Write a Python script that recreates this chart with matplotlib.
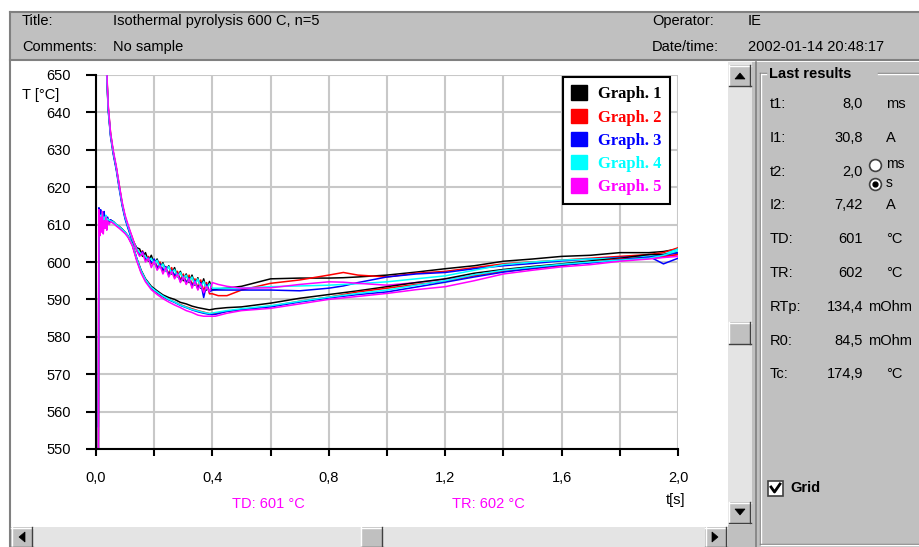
import matplotlib
matplotlib.use("Agg")
import matplotlib.pyplot as plt
from matplotlib.patches import Rectangle, Patch, Polygon
from matplotlib.lines import Line2D

plt.rcParams['font.family'] = ['Liberation Sans', 'DejaVu Sans']

# ---- data ----
graph_names = ["Graph. 1", "Graph. 2", "Graph. 3", "Graph. 4", "Graph. 5"]
graph_colors = ["#000000", "#ff0000", "#0000ff", "#00ffff", "#ff00ff"]

# TD curve (starts far above the window, decays and settles)
t_td = [0.030, 0.037, 0.042, 0.050, 0.060, 0.070, 0.080, 0.090, 0.100, 0.110,
        0.125, 0.140, 0.150, 0.160, 0.170, 0.180, 0.190, 0.200, 0.210, 0.220,
        0.230, 0.240, 0.250, 0.260, 0.270, 0.280, 0.290, 0.300, 0.310, 0.320,
        0.330, 0.340, 0.350, 0.360, 0.370, 0.380, 0.390, 0.400,
        0.420, 0.450, 0.500, 0.600, 0.700, 0.800, 0.850, 0.900, 1.000, 1.100,
        1.200, 1.300, 1.400, 1.500, 1.600, 1.700, 1.800, 1.900, 1.950, 2.000]
td_g1 = [668, 650, 641, 634, 629, 625, 620, 615.5, 612, 609.5,
         606, 603.8, 603.5, 601.5, 602.5, 600.2, 601.8, 599.5, 600.8, 598.5,
         599.8, 597.5, 599, 596.8, 598.5, 596, 597.5, 595, 596.8, 594.5,
         596.5, 593.8, 595.8, 593, 595.5, 592.5, 594.8, 592.5,
         592.8, 593, 593.5, 595.5, 595.7, 595.7, 595.8, 596, 596.5, 597.3,
         598.2, 599, 600.2, 600.8, 601.5, 601.8, 602.5, 602.5, 602.8, 603.5]
td_g2 = [668, 650.5, 641.5, 634.5, 629, 625, 620.5, 615.5, 612, 609.5,
         606.5, 603, 602, 603, 600.5, 601.5, 599.5, 600.5, 598.5, 600,
         597.5, 598.5, 596.8, 598.5, 596, 597.5, 595.2, 596.8, 594.2, 596.5,
         593.8, 595.5, 593, 595.2, 592.2, 594.5, 591.5, 591.5,
         591, 591, 592.5, 594.3, 595.2, 596.5, 597.2, 596.5, 596, 597,
         597.5, 598.5, 599.5, 600, 600.5, 601, 601.5, 602, 602.5, 603.8]
td_g3 = [667, 649.5, 640.5, 633.5, 628.5, 624.5, 619.5, 615, 611.5, 609,
         605.5, 603.5, 601.8, 602.8, 600.8, 601.2, 599.8, 600.8, 598.2, 599.5,
         597.8, 598.8, 596.5, 597.8, 596.5, 597, 594.8, 596.2, 594.5, 595.8,
         593.5, 595, 592.8, 594.5, 590.5, 594, 592, 592.5,
         592.5, 592.5, 592.5, 592.5, 592.3, 593, 593.6, 594.5, 596, 596.8,
         597.2, 598.2, 599, 599.6, 600.3, 600.8, 601.2, 601.5, 599.5, 601]
td_g4 = [668, 650, 641, 634, 629, 625, 620, 615.5, 612, 609.5,
         606, 603.5, 602.5, 602, 601.5, 600.5, 601, 599.5, 600.5, 598.5,
         599.5, 597.5, 598.8, 597, 598, 596, 597.2, 595.5, 596.5, 594.8,
         596, 594, 595.5, 593.2, 594.8, 592.8, 594.2, 593,
         593, 593, 593, 593.4, 593.6, 593.8, 594, 594.2, 594.7, 595.5,
         596.3, 597.8, 599.3, 600, 600.5, 600.8, 601, 601.5, 602, 603.5]
td_g5 = [669, 651, 642, 634.5, 629.5, 625.5, 620.5, 616, 612.5, 610,
         606.5, 603, 601.5, 602.5, 600, 601, 598.5, 600.2, 597.8, 599,
         596.8, 598.5, 596, 597.5, 595.5, 596.8, 594.5, 596, 594, 595.5,
         593, 594.8, 592.5, 594.2, 591.8, 593.5, 592, 594.5,
         594, 593.5, 593, 593.1, 594, 594.7, 594.6, 594.3, 593.8, 594.5,
         595.4, 596.5, 597.5, 598.5, 599.3, 599.8, 600.5, 601, 601.3, 602]

# TR curve (jumps up at start, dips lower, then rises)
t_tr = [0.008, 0.010, 0.013, 0.016, 0.019, 0.022, 0.025, 0.028, 0.031, 0.034,
        0.037, 0.040, 0.045, 0.050, 0.060, 0.070, 0.080, 0.090, 0.100, 0.110,
        0.125, 0.140, 0.155, 0.170, 0.190, 0.210, 0.230, 0.250, 0.270, 0.290,
        0.310, 0.330, 0.350, 0.370, 0.390, 0.410,
        0.450, 0.500, 0.600, 0.700, 0.800, 0.900, 1.000, 1.100, 1.200, 1.300,
        1.400, 1.500, 1.600, 1.700, 1.800, 1.900, 1.950, 2.000]
tr_g1 = [540, 611, 613, 610, 612.5, 610.5, 612, 611, 612, 610.5,
         611.5, 611.5, 611, 611.2, 610.8, 610, 609.5, 608.8, 608, 607,
         604.8, 601, 597.8, 595.5, 593.5, 592.3, 591.2, 590.5, 590, 589.2,
         588.8, 588.2, 587.8, 587.5, 587.2, 587.5,
         587.8, 588, 589, 590.3, 591.3, 592.3, 593.4, 594.5, 595.5, 597,
         598, 598.8, 599.5, 600.3, 601, 602, 602, 602.5]
tr_g2 = [540, 612, 609, 613, 610, 612, 608.5, 612, 610, 611.5,
         609.5, 611, 610.5, 611, 610.5, 609.8, 609.2, 608.5, 607.8, 606.8,
         604.5, 600.6, 597.3, 595, 593, 591.8, 590.7, 590, 589.3, 588.6,
         588, 587.5, 587, 586.6, 586.2, 586.3,
         586.8, 587.3, 588.2, 589.5, 590.6, 592, 593, 594, 594.8, 596.3,
         597.5, 598.2, 599, 600, 600.8, 601.2, 601.5, 602]
tr_g3 = [556, 614.5, 611, 614, 609.5, 613, 611, 613.5, 610, 612,
         611, 612, 610.8, 611.3, 610.6, 609.9, 609.3, 608.6, 607.9, 606.9,
         604.6, 600.8, 597.5, 595.2, 593.1, 591.9, 590.8, 589.9, 589.2, 588.4,
         587.8, 587.2, 586.7, 586.3, 586, 586,
         586.8, 587.3, 588, 589.3, 590.4, 591.3, 592, 593.3, 594.6, 596,
         597.3, 598.3, 599.2, 599.8, 600.6, 601.3, 601.8, 602.5]
tr_g4 = [540, 613, 610.5, 612.5, 611, 613, 610, 612, 611.5, 612.5,
         610.8, 611.5, 611.2, 611, 610.7, 610, 609.4, 608.7, 608, 607,
         604.7, 600.9, 597.6, 595.3, 593.2, 592, 590.9, 590, 589.3, 588.5,
         587.9, 587.3, 586.9, 586.5, 586.2, 586.5,
         587, 587.5, 588.3, 589.5, 590.6, 591.6, 592.5, 593.8, 595, 596.6,
         597.8, 598.6, 599.4, 600, 600.5, 601, 601.8, 603]
tr_g5 = [540, 614, 607, 612, 608, 613.5, 607.5, 611, 609, 612,
         608.5, 611, 610, 610.8, 610.3, 609.6, 609, 608.3, 607.6, 606.6,
         604.3, 600.3, 597, 594.7, 592.6, 591.3, 590.2, 589.3, 588.5, 587.8,
         587, 586.5, 585.8, 585.5, 585.5, 585.5,
         586.3, 587, 587.6, 588.8, 590, 590.8, 591.6, 592.6, 593.4, 595,
         596.8, 597.8, 598.7, 599.3, 600.2, 600.8, 601.2, 601.5]

td_series = [td_g1, td_g2, td_g3, td_g4, td_g5]
tr_series = [tr_g1, tr_g2, tr_g3, tr_g4, tr_g5]

x_ticks = [0.0, 0.2, 0.4, 0.6, 0.8, 1.0, 1.2, 1.4, 1.6, 1.8, 2.0]
x_tick_labels = ["0,0", "", "0,4", "", "0,8", "", "1,2", "", "1,6", "", "2,0"]
y_ticks = [550, 560, 570, 580, 590, 600, 610, 620, 630, 640, 650]

header_left = [("Title:", "Isothermal pyrolysis 600 C, n=5"),
               ("Comments:", "No sample")]
header_right = [("Operator:", "IE"), ("Date/time:", "2002-01-14 20:48:17")]

result_labels = ["t1:", "I1:", "t2:", "I2:", "TD:", "TR:", "RTp:", "R0:", "Tc:"]
result_values = ["8,0", "30,8", "2,0", "7,42", "601", "602", "134,4", "84,5", "174,9"]
result_units = ["ms", "A", "", "A", "°C", "°C", "mOhm", "mOhm", "°C"]

td_text = "TD: 601 °C"
tr_text = "TR: 602 °C"

# ---- figure in pixel units ----
W, H = 920, 547
fig = plt.figure(figsize=(W / 100, H / 100), dpi=100)
fig.patch.set_facecolor("white")


def fx(x):
    return x / W


def fy(y):
    return 1 - y / H


def rect(x0, y0, x1, y1, fc, ec="none", lw=0, z=0):
    fig.add_artist(Rectangle((fx(x0), fy(y1)), (x1 - x0) / W, (y1 - y0) / H,
                             transform=fig.transFigure, facecolor=fc,
                             edgecolor=ec, linewidth=lw, zorder=z))


def hline(x0, x1, y, c, lw=1.0, z=1):
    fig.add_artist(Line2D([fx(x0), fx(x1)], [fy(y), fy(y)],
                          transform=fig.transFigure, color=c, lw=lw, zorder=z))


def vline(x, y0, y1, c, lw=1.0, z=1):
    fig.add_artist(Line2D([fx(x), fx(x)], [fy(y0), fy(y1)],
                          transform=fig.transFigure, color=c, lw=lw, zorder=z))


def button(x0, y0, x1, y1):
    rect(x0, y0, x1, y1, "#c0c0c0", z=2)
    hline(x0, x1, y0 + 0.5, "white", 1, z=3)
    vline(x0 + 0.5, y0, y1, "white", 1, z=3)
    hline(x0, x1, y1 - 0.5, "#404040", 1, z=3)
    vline(x1 - 0.5, y0, y1, "#404040", 1, z=3)


def arrow(pts):
    fig.add_artist(Polygon([(fx(a), fy(b)) for a, b in pts], closed=True,
                           transform=fig.transFigure, facecolor="black",
                           edgecolor="black", lw=0.5, zorder=4))


# header band
rect(10, 12, 920, 60, "#c0c0c0")
hline(10, 920, 12, "#808080", 1.5)
hline(10, 920, 60, "#808080", 1.5)
vline(10, 12, 547, "#808080", 1.5)
for i, (lab, val) in enumerate(header_left):
    y = 21 + i * 26
    fig.text(fx(22), fy(y), lab, fontsize=10.5, va="center", ha="left")
    fig.text(fx(113), fy(y), val, fontsize=10.5, va="center", ha="left")
for i, (lab, val) in enumerate(header_right):
    y = 21 + i * 26
    fig.text(fx(652), fy(y), lab, fontsize=10.5, va="center", ha="left")
    fig.text(fx(748), fy(y), val, fontsize=10.5, va="center", ha="left")

# scrollbars
rect(728, 62, 752, 525, "#e4e4e4")
button(729, 65, 751, 86)
button(729, 322, 751, 344)
button(729, 502, 751, 523)
arrow([(735, 79), (745, 79), (740, 73)])
arrow([(735, 509), (745, 509), (740, 515)])
rect(728, 525, 752, 547, "#c0c0c0")
rect(10, 527, 728, 547, "#e4e4e4")
button(11, 527, 33, 547)
button(361, 527, 383, 547)
button(705, 527, 727, 547)
arrow([(25, 532), (25, 542), (19, 537)])
arrow([(712, 532), (712, 542), (718, 537)])

# right panel
rect(752, 62, 920, 547, "#c0c0c0")
vline(756, 62, 547, "#808080", 1.2)
hline(760, 766, 73, "#808080", 1)
hline(878, 920, 73, "#808080", 1)
hline(760, 766, 74, "white", 1)
hline(878, 920, 74, "white", 1)
vline(760, 73, 544, "#808080", 1)
vline(761, 74, 544, "white", 1)
hline(760, 920, 544, "#808080", 1)
hline(761, 920, 545, "white", 1)
fig.text(fx(769), fy(74), "Last results", fontsize=10.5, fontweight="bold",
         va="center", ha="left")
for i, (lab, val, unit) in enumerate(zip(result_labels, result_values, result_units)):
    y = 104 + i * 33.8
    fig.text(fx(770), fy(y), lab, fontsize=10.5, va="center", ha="left")
    fig.text(fx(863), fy(y), val, fontsize=10.5, va="center", ha="right")
    ux = 868 if len(unit) > 2 else 886
    fig.text(fx(ux), fy(y), unit, fontsize=10.5, va="center", ha="left")
# t2 unit radio buttons
for yy, on, txt in [(165, False, "ms"), (184, True, "s")]:
    fig.add_artist(Line2D([fx(875)], [fy(yy)], marker="o", markersize=8.5,
                          markerfacecolor="white", markeredgecolor="#404040",
                          markeredgewidth=1.2, transform=fig.transFigure, zorder=5))
    if on:
        fig.add_artist(Line2D([fx(875)], [fy(yy)], marker="o", markersize=3.5,
                              color="black", transform=fig.transFigure, zorder=6))
    fig.text(fx(886), fy(yy - 1), txt, fontsize=10, va="center", ha="left")
# grid checkbox
rect(768, 481, 783, 496, "white", ec="#404040", lw=1.2, z=3)
fig.add_artist(Line2D([fx(771), fx(774.5), fx(780)], [fy(487), fy(492), fy(484)],
                      transform=fig.transFigure, color="black", lw=2, zorder=4))
fig.text(fx(790), fy(488), "Grid", fontsize=10.5, fontweight="bold",
         va="center", ha="left")

# ---- chart ----
ax = fig.add_axes([fx(96), fy(449), (678 - 96) / W, (449 - 75) / H])
for tx, ty, c in zip([t_td] * 5, td_series, graph_colors):
    ax.plot(tx, ty, color=c, lw=1.1)
for tx, ty, c in zip([t_tr] * 5, tr_series, graph_colors):
    ax.plot(tx, ty, color=c, lw=1.1)

ax.set_xlim(0, 2.0)
ax.set_ylim(550, 650)
ax.set_xticks(x_ticks)
ax.set_xticklabels(x_tick_labels)
ax.set_yticks(y_ticks)
ax.set_yticklabels([str(v) for v in y_ticks])
ax.grid(True, color="#c8c8c8", lw=1.5)
ax.set_axisbelow(True)
for s in ["top", "right"]:
    ax.spines[s].set_visible(False)
for s in ["left", "bottom"]:
    ax.spines[s].set_linewidth(1.5)
ax.tick_params(axis="x", length=5, width=1.5, pad=11, labelsize=10.5)
ax.tick_params(axis="y", length=7, width=1.5, pad=11, labelsize=10.5)

handles = [Patch(facecolor=c, edgecolor=c) for c in graph_colors]
leg = ax.legend(handles, graph_names, loc="upper left",
                bbox_to_anchor=(fx(563), fy(77)), bbox_transform=fig.transFigure,
                prop={"family": "Liberation Serif", "weight": "bold", "size": 12},
                labelcolor=graph_colors, fancybox=False, edgecolor="black",
                framealpha=1, borderpad=0.5, borderaxespad=0, handlelength=0.95,
                handleheight=0.95, handletextpad=0.65, labelspacing=0.38)
leg.get_frame().set_linewidth(1.5)

fig.text(fx(22), fy(95), "T [°C]", fontsize=10.5, va="center", ha="left")
fig.text(fx(666), fy(500), "t[s]", fontsize=10.5, va="center", ha="left")
fig.text(fx(232), fy(504), td_text, fontsize=10.5, color="#ff00ff",
         va="center", ha="left")
fig.text(fx(452), fy(504), tr_text, fontsize=10.5, color="#ff00ff",
         va="center", ha="left")

fig.savefig("out.png", dpi=100)
